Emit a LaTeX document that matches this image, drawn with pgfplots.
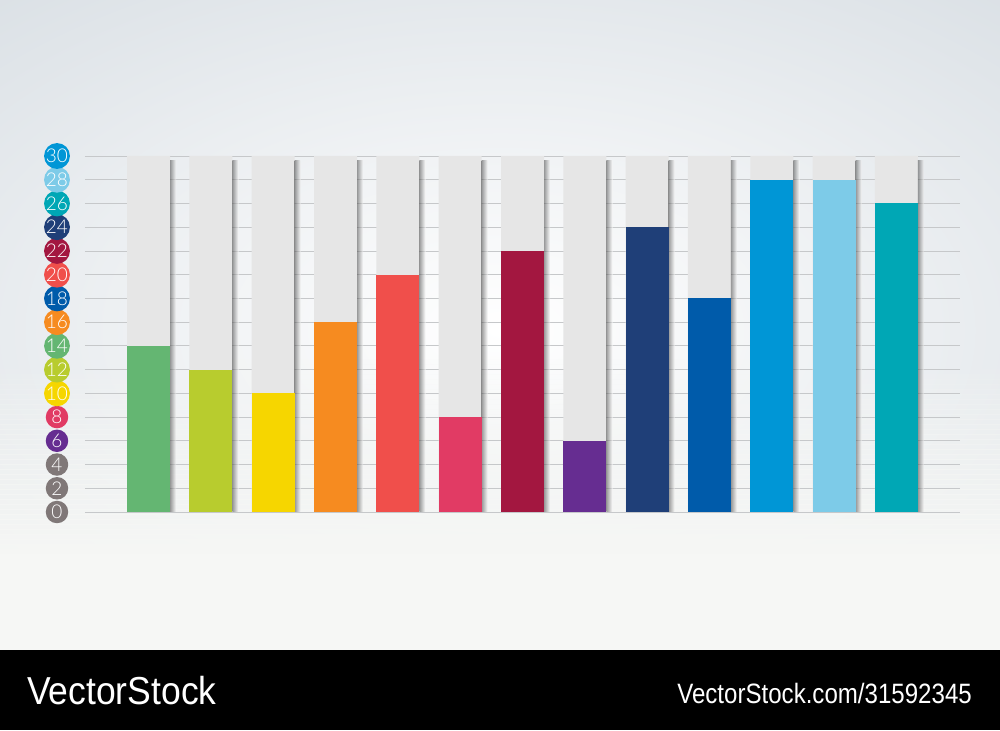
\documentclass[border=0pt]{standalone}
\usepackage{pgfplots}
\pgfplotsset{compat=1.18}
\usepackage{fontspec}
\setmainfont{Lato}
\newfontfamily\thinfont{Lato}[UprightFont=* Light]
\newfontfamily\vsfont{Liberation Sans}
\definecolor{cA}{HTML}{0096D6}
\definecolor{cB}{HTML}{7DCBE8}
\definecolor{cC}{HTML}{00A7B5}
\definecolor{cD}{HTML}{1F3F78}
\definecolor{cE}{HTML}{A31740}
\definecolor{cF}{HTML}{F04F4B}
\definecolor{cG}{HTML}{005BAA}
\definecolor{cH}{HTML}{F68B20}
\definecolor{cI}{HTML}{64B672}
\definecolor{cJ}{HTML}{B8CC2E}
\definecolor{cK}{HTML}{F6D600}
\definecolor{cL}{HTML}{E13B64}
\definecolor{cM}{HTML}{662D91}
\definecolor{cN}{HTML}{807878}
\definecolor{bargray}{HTML}{E6E6E6}
\definecolor{gridgray}{HTML}{C6C8CA}
\definecolor{bgout}{HTML}{D3DAE0}
\definecolor{bgbot}{HTML}{F6F7F5}
\newcommand\cl[2]{\tikz[baseline=(n.base)]\node[circle,fill=#1,inner sep=0pt,minimum size=22.5pt,text=white,font=\thinfont\fontsize{19}{19}\selectfont](n){#2};}
\begin{document}
\begin{tikzpicture}[x=1pt,y=1pt]
\begin{scope}
\clip (0,80) rectangle (1000,730);
\fill[bgout] (0,80) rectangle (1000,730);
\shade[inner color=white, outer color=bgout] (500,400) ellipse (950 and 540);
\fill[bgbot] (0,80) rectangle (1000,170);
\foreach \i in {0,...,39}{
  \pgfmathsetmacro\op{1-\i/40}
  \fill[bgbot, fill opacity=\op] (0,{170+5*\i}) rectangle (1000,{175.5+5*\i});
}
\end{scope}
\fill[black] (0,0) rectangle (1000,80);
\node[anchor=base west, inner sep=0pt, text=white, font=\vsfont\fontsize{39}{39}\selectfont] at (27,25) {\scalebox{0.91}[1]{VectorStock}};
\node[anchor=base east, inner sep=0pt, text=white, font=\vsfont\fontsize{28}{28}\selectfont] at (972,27) {\scalebox{0.86}[1]{VectorStock.com/31592345}};
\begin{axis}[at={(85pt,218pt)}, anchor=south west, scale only axis,
  width=875pt, height=356pt,
  xmin=-1.02, xmax=13.02, ymin=0, ymax=30,
  ytick={0,2,...,30},
  yticklabels={\cl{cN}{0},\cl{cN}{2},\cl{cN}{4},\cl{cM}{6},\cl{cL}{8},\cl{cK}{10},\cl{cJ}{12},\cl{cI}{14},\cl{cH}{16},\cl{cG}{18},\cl{cF}{20},\cl{cE}{22},\cl{cD}{24},\cl{cC}{26},\cl{cB}{28},\cl{cA}{30}},
  xtick=\empty,
  axis line style={draw=none},
  major tick length=0pt,
  ymajorgrids, grid style={draw=gridgray, line width=0.8pt},
  y tick label style={anchor=center, xshift=-28pt},
  clip=false]
\addplot[ybar, bar width=43pt, bar shift=0pt, fill=bargray, draw=none] coordinates {(0,30)(1,30)(2,30)(3,30)(4,30)(5,30)(6,30)(7,30)(8,30)(9,30)(10,30)(11,30)(12,30)};
\pgfplotsinvokeforeach{0,...,12}{
\addplot[ybar, bar width=6pt, bar shift=24.5pt, draw=none, shading=axis, shading angle=90, left color=black!75, right color=white, fill opacity=0.5] coordinates {(#1,29.6)};
}
\addplot[ybar, bar width=43pt, bar shift=0pt, fill=cI, draw=none] coordinates {(0,14)};
\addplot[ybar, bar width=43pt, bar shift=0pt, fill=cJ, draw=none] coordinates {(1,12)};
\addplot[ybar, bar width=43pt, bar shift=0pt, fill=cK, draw=none] coordinates {(2,10)};
\addplot[ybar, bar width=43pt, bar shift=0pt, fill=cH, draw=none] coordinates {(3,16)};
\addplot[ybar, bar width=43pt, bar shift=0pt, fill=cF, draw=none] coordinates {(4,20)};
\addplot[ybar, bar width=43pt, bar shift=0pt, fill=cL, draw=none] coordinates {(5,8)};
\addplot[ybar, bar width=43pt, bar shift=0pt, fill=cE, draw=none] coordinates {(6,22)};
\addplot[ybar, bar width=43pt, bar shift=0pt, fill=cM, draw=none] coordinates {(7,6)};
\addplot[ybar, bar width=43pt, bar shift=0pt, fill=cD, draw=none] coordinates {(8,24)};
\addplot[ybar, bar width=43pt, bar shift=0pt, fill=cG, draw=none] coordinates {(9,18)};
\addplot[ybar, bar width=43pt, bar shift=0pt, fill=cA, draw=none] coordinates {(10,28)};
\addplot[ybar, bar width=43pt, bar shift=0pt, fill=cB, draw=none] coordinates {(11,28)};
\addplot[ybar, bar width=43pt, bar shift=0pt, fill=cC, draw=none] coordinates {(12,26)};
\end{axis}
\pgfresetboundingbox
\useasboundingbox (0,0) rectangle (1000,730);
\end{tikzpicture}
\end{document}
